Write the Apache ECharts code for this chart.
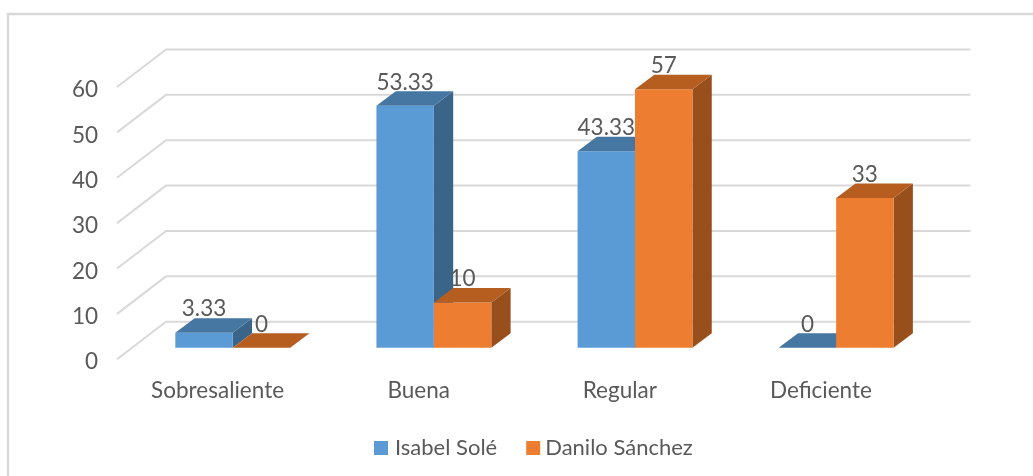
<!DOCTYPE html>
<html>
<head>
<meta charset="utf-8">
<style>html,body{margin:0;padding:0;background:#fff}#chart{width:1033px;height:476px}</style>
<script src="https://cdn.jsdelivr.net/npm/echarts@6/dist/echarts.min.js"></script>
</head>
<body>
<div id="chart"></div>
<script>
const categories = ['Sobresaliente', 'Buena', 'Regular', 'Deficiente'];
const isabelSole = [3.33, 53.33, 43.33, 0];
const daniloSanchez = [0, 10, 57, 33];
const yTicks = [0, 10, 20, 30, 40, 50, 60];

const FONT = 'Lato, "Open Sans", sans-serif';
const TEXT = '#595959';
const WALL = { dx: 49, dy: -37.5 };
const FRONT = { dx: 15.2, dy: -11.4 };
const DEPTH = { dx: 19.3, dy: -14.5 };

function poly(points, fill) {
  return { type: 'polygon', shape: { points }, style: { fill, stroke: null } };
}

function barItem(side, colors) {
  return function (params, api) {
    const cat = api.value(0), val = api.value(1);
    const band = api.size([1, 0])[0];
    const w = band * 0.2856;
    const base = api.coord([cat, 0]);
    const top = api.coord([cat, val]);
    const x0 = base[0] + FRONT.dx + (side < 0 ? -w : 0);
    const x1 = x0 + w;
    const yb = base[1] + FRONT.dy;
    const yt = top[1] + FRONT.dy;
    const d = DEPTH;
    const children = [];
    if (val > 0) {
      children.push(poly([[x1, yt], [x1 + d.dx, yt + d.dy], [x1 + d.dx, yb + d.dy], [x1, yb]], colors.side));
      children.push(poly([[x0, yt], [x1, yt], [x1, yb], [x0, yb]], colors.front));
    }
    children.push(poly([[x0, yt], [x1, yt], [x1 + d.dx, yt + d.dy], [x0 + d.dx, yt + d.dy]], colors.top));
    children.push({
      type: 'text', z2: 100,
      style: {
        text: String(val), x: (x0 + x1) / 2, y: yt - 23.5,
        align: 'center', verticalAlign: 'middle',
        fill: TEXT, font: '22.5px ' + FONT
      }
    });
    return { type: 'group', children };
  };
}

const BLUE = { front: '#5b9bd5', top: '#4676a2', side: '#3a6488' };
const ORANGE = { front: '#ed7d31', top: '#b55e20', side: '#984f1c' };

const chart = echarts.init(document.getElementById('chart'), null, { renderer: 'canvas' });
chart.setOption({
  animation: false,
  backgroundColor: '#fff',
  textStyle: { fontFamily: FONT },
  graphic: [{
    type: 'polyline', silent: true,
    shape: { points: [[8, 476], [8, 14], [1033, 14]] },
    style: { stroke: '#d9d9d9', lineWidth: 2.5, fill: null }
  }],
  grid: { left: 117, top: 87, width: 804.5, height: 272.2 },
  xAxis: {
    type: 'category', data: categories,
    axisLine: { show: false }, axisTick: { show: false }, splitLine: { show: false },
    axisLabel: { color: TEXT, fontSize: 22.5, fontFamily: FONT, margin: 20 }
  },
  yAxis: {
    type: 'value', min: 0, max: 60, interval: 10,
    axisLine: { show: false }, axisTick: { show: false }, splitLine: { show: false },
    axisLabel: { color: TEXT, fontSize: 22.5, fontFamily: FONT, margin: 19, verticalAlign: 'top', lineHeight: 6 }
  },
  legend: {
    data: [
      { name: 'Isabel Solé' },
      { name: 'Danilo Sánchez', textStyle: { padding: [0, 0, 0, 0] } }
    ],
    left: 369, top: 432, itemWidth: 14, itemHeight: 14, itemGap: 29,
    icon: 'rect',
    textStyle: { color: TEXT, fontSize: 22, fontFamily: FONT, padding: [0, 0, 0, 2] }
  },
  series: [
    {
      type: 'custom', name: 'walls', silent: true, z: 1,
      data: yTicks.map(v => [0, v]),
      encode: { x: 0, y: 1 },
      renderItem(params, api) {
        const y = api.coord([0, api.value(1)])[1];
        const x = params.coordSys.x, w = params.coordSys.width;
        return {
          type: 'polyline',
          shape: { points: [[x, y], [x + WALL.dx, y + WALL.dy], [x + w + WALL.dx, y + WALL.dy]] },
          style: { stroke: '#d9d9d9', lineWidth: 2, fill: null }
        };
      }
    },
    {
      type: 'custom', name: 'Isabel Solé', z: 2, itemStyle: { color: BLUE.front },
      data: isabelSole.map((v, i) => [i, v]), encode: { x: 0, y: 1 },
      renderItem: barItem(-1, BLUE)
    },
    {
      type: 'custom', name: 'Danilo Sánchez', z: 2, itemStyle: { color: ORANGE.front },
      data: daniloSanchez.map((v, i) => [i, v]), encode: { x: 0, y: 1 },
      renderItem: barItem(1, ORANGE)
    }
  ]
});
</script>
</body>
</html>
